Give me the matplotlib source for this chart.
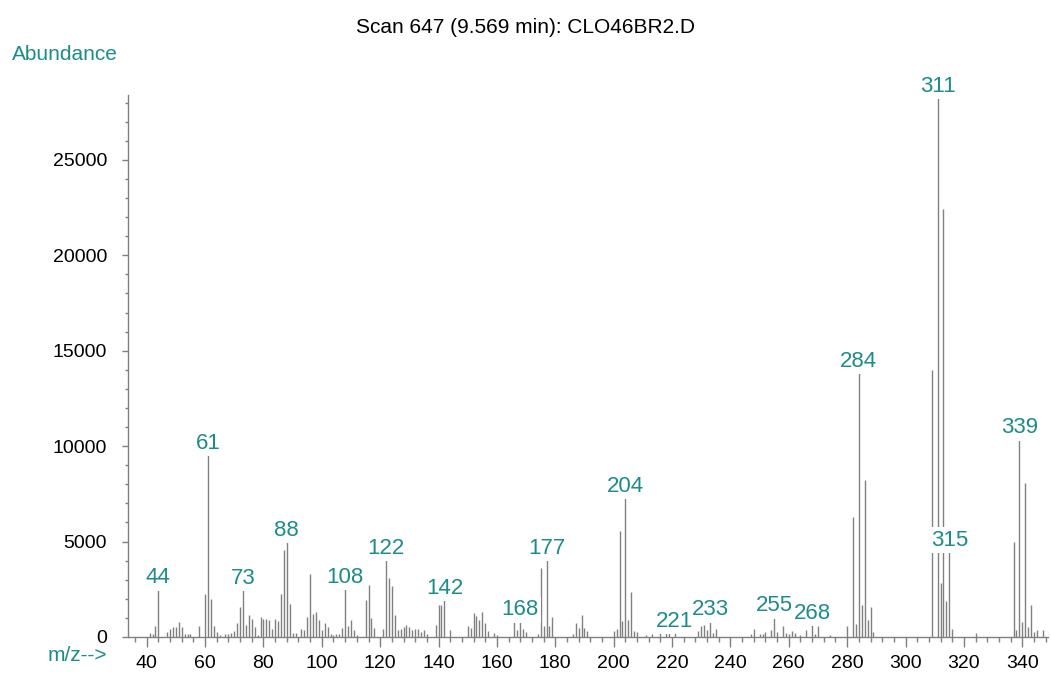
import matplotlib
matplotlib.use("Agg")
import matplotlib.pyplot as plt
from matplotlib.ticker import MultipleLocator

plt.rcParams['font.family'] = ['Liberation Sans', 'DejaVu Sans']

# spectrum (m/z, abundance)
mz = [41, 42, 43, 44, 47, 48, 49, 50, 51, 52, 53, 54, 55, 58, 60, 61, 62, 63, 64, 65,
      67, 68, 69, 70, 71, 72, 73, 74, 75, 76, 77, 78, 79, 80, 81, 82, 83, 84, 85, 86,
      87, 88, 89, 90, 91, 93, 94, 95, 96, 97, 98, 99, 100, 101, 102, 103, 104, 105, 106, 107,
      108, 109, 110, 111, 112, 115, 116, 117, 118, 121, 122, 123, 124, 125, 126, 127, 128, 129, 130, 131,
      132, 133, 134, 135, 136, 139, 140, 141, 142, 144, 150, 151, 152, 153, 154, 155, 156, 157, 159, 160,
      166, 167, 168, 169, 170, 174, 175, 176, 177, 178, 179, 186, 187, 188, 189, 190, 191, 200, 201, 202,
      203, 204, 205, 206, 207, 208, 211, 213, 216, 218, 219, 221, 229, 230, 231, 232, 233, 234, 235, 247,
      248, 250, 251, 252, 254, 255, 256, 258, 259, 260, 261, 262, 264, 266, 268, 269, 270, 274, 280, 282,
      283, 284, 285, 286, 287, 288, 289, 309, 311, 312, 313, 314, 315, 316, 324, 337, 338, 339, 340, 341,
      342, 343, 344, 345, 347]
abundance = [190, 140, 580, 2620, 260, 400, 540, 520, 780, 525, 150, 175, 150, 570, 2250, 9650, 2000, 600, 280, 100,
             130, 140, 190, 300, 735, 1575, 2600, 630, 1170, 960, 500, 100, 1050, 960, 925, 875, 400, 940, 860, 2270,
             4540, 5100, 1750, 190, 190, 440, 350, 1050, 3320, 1225, 1310, 875, 350, 735, 525, 175, 120, 175, 175, 490,
             2640, 560, 875, 350, 90, 1925, 2710, 1015, 490, 440, 4160, 3080, 2690, 1170, 350, 440, 525, 610, 525, 350,
             440, 440, 260, 350, 175, 630, 1650, 1700, 2060, 350, 560, 470, 1260, 1120, 900, 1290, 720, 300, 210, 100,
             820, 385, 940, 420, 245, 150, 3600, 560, 4170, 560, 1030, 175, 730, 470, 1135, 470, 300, 300, 400, 5540,
             820, 7400, 870, 2360, 300, 245, 120, 150, 200, 250, 330, 330, 300, 560, 650, 385, 945, 210, 420, 175,
             400, 175, 175, 260, 370, 1150, 260, 600, 210, 175, 330, 210, 120, 350, 770, 150, 550, 100, 550, 6300,
             700, 13950, 1700, 8200, 900, 1550, 250, 14000, 28380, 2850, 22400, 1900, 4600, 400, 200, 4980, 380, 10480, 800, 8080,
             500, 1650, 250, 380, 350]

labelled = [44, 61, 73, 88, 108, 122, 142, 168, 177, 204, 221, 233, 255, 268, 284, 311, 315, 339]

teal = '#1c8c8a'
grey = '#808080'

fig = plt.figure(figsize=(10.51, 6.79), dpi=100)
ax = fig.add_axes([0.1218, 0.0619, 0.8753, 0.7982])

ax.vlines(mz, 0, abundance, color=grey, lw=1.0, zorder=2)

for m in labelled:
    a = abundance[mz.index(m)]
    ax.annotate(str(m), xy=(m, a), xytext=(0, -1), textcoords='offset points',
                ha='center', va='bottom', color=teal, fontsize=16, zorder=4,
                bbox=dict(boxstyle='square,pad=0.1', fc='white', ec='none'))

ax.set_xlim(33.6, 348.8)
ax.set_ylim(0, 28400)

for s in ['top', 'right']:
    ax.spines[s].set_visible(False)
for s in ['left', 'bottom']:
    ax.spines[s].set_color(grey)
    ax.spines[s].set_linewidth(1.0)

ax.xaxis.set_major_locator(MultipleLocator(20))
ax.xaxis.set_minor_locator(MultipleLocator(4))
ax.yaxis.set_major_locator(MultipleLocator(5000))
ax.yaxis.set_minor_locator(MultipleLocator(1000))
ax.tick_params(axis='x', which='major', length=7, width=1, color=grey, pad=6, labelsize=14)
ax.tick_params(axis='x', which='minor', length=3.5, width=1, color=grey)
ax.tick_params(axis='y', which='major', length=4, width=1, color=grey, pad=11, labelsize=14)
ax.tick_params(axis='y', which='minor', length=2.5, width=1, color=grey)
ax.set_xticks(range(40, 341, 20))

fig.text(0.5, 0.959, 'Scan 647 (9.569 min): CLO46BR2.D', ha='center', va='center', fontsize=15)
fig.text(0.011, 0.919, 'Abundance', ha='left', va='center', fontsize=15, color=teal)
fig.text(0.045, 0.035, 'm/z-->', ha='left', va='center', fontsize=15, color=teal)

fig.savefig('out.png', dpi=100)
